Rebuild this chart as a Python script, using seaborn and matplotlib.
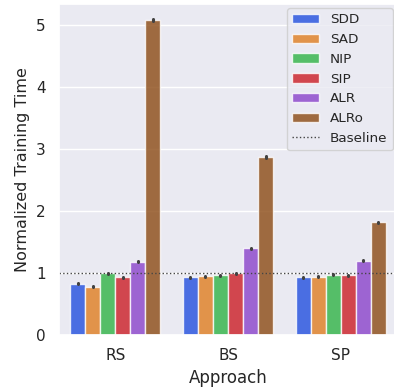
import numpy as np
import pandas as pd
import seaborn as sns
import matplotlib
matplotlib.use("Agg")
import matplotlib.pyplot as plt

approaches = ["RS", "BS", "SP"]
methods = ["SDD", "SAD", "NIP", "SIP", "ALR", "ALRo"]
means = {
    "SDD":  [0.83, 0.93, 0.93],
    "SAD":  [0.78, 0.95, 0.94],
    "NIP":  [1.00, 0.96, 0.97],
    "SIP":  [0.93, 1.00, 0.96],
    "ALR":  [1.18, 1.40, 1.20],
    "ALRo": [5.08, 2.87, 1.82],
}
errs = {
    "SDD":  [0.01, 0.008, 0.008],
    "SAD":  [0.008, 0.008, 0.008],
    "NIP":  [0.008, 0.008, 0.008],
    "SIP":  [0.008, 0.008, 0.008],
    "ALR":  [0.01, 0.01, 0.01],
    "ALRo": [0.01, 0.01, 0.01],
}
baseline = 1.0

rows = []
for m in methods:
    for a, mu, e in zip(approaches, means[m], errs[m]):
        for v in (mu - e, mu, mu + e):
            rows.append({"Approach": a, "Method": m, "Time": v})
df = pd.DataFrame(rows)

sns.set_theme(style="darkgrid")
fig = plt.figure(figsize=(3.94, 3.89), dpi=100)
ax = fig.add_axes([59 / 394, 1 - 335 / 389, 338 / 394, 331 / 389])
sns.barplot(data=df, x="Approach", y="Time", hue="Method", order=approaches,
            hue_order=methods, palette="bright", saturation=0.75, errorbar="sd",
            err_kws={"color": ".26"}, ax=ax,
            edgecolor="white", linewidth=1, alpha=0.8)
ax.axhline(baseline, color="#444444", linestyle=":", linewidth=1, label="Baseline")
ax.set_ylim(0, 5.34)
ax.set_xlabel("Approach", fontsize=12)
ax.set_ylabel("Normalized Training Time", fontsize=11.5)
ax.tick_params(labelsize=11)
ax.legend(loc="upper right", fontsize=9.7, borderaxespad=0.3)
fig.savefig("out.png", dpi=100)
